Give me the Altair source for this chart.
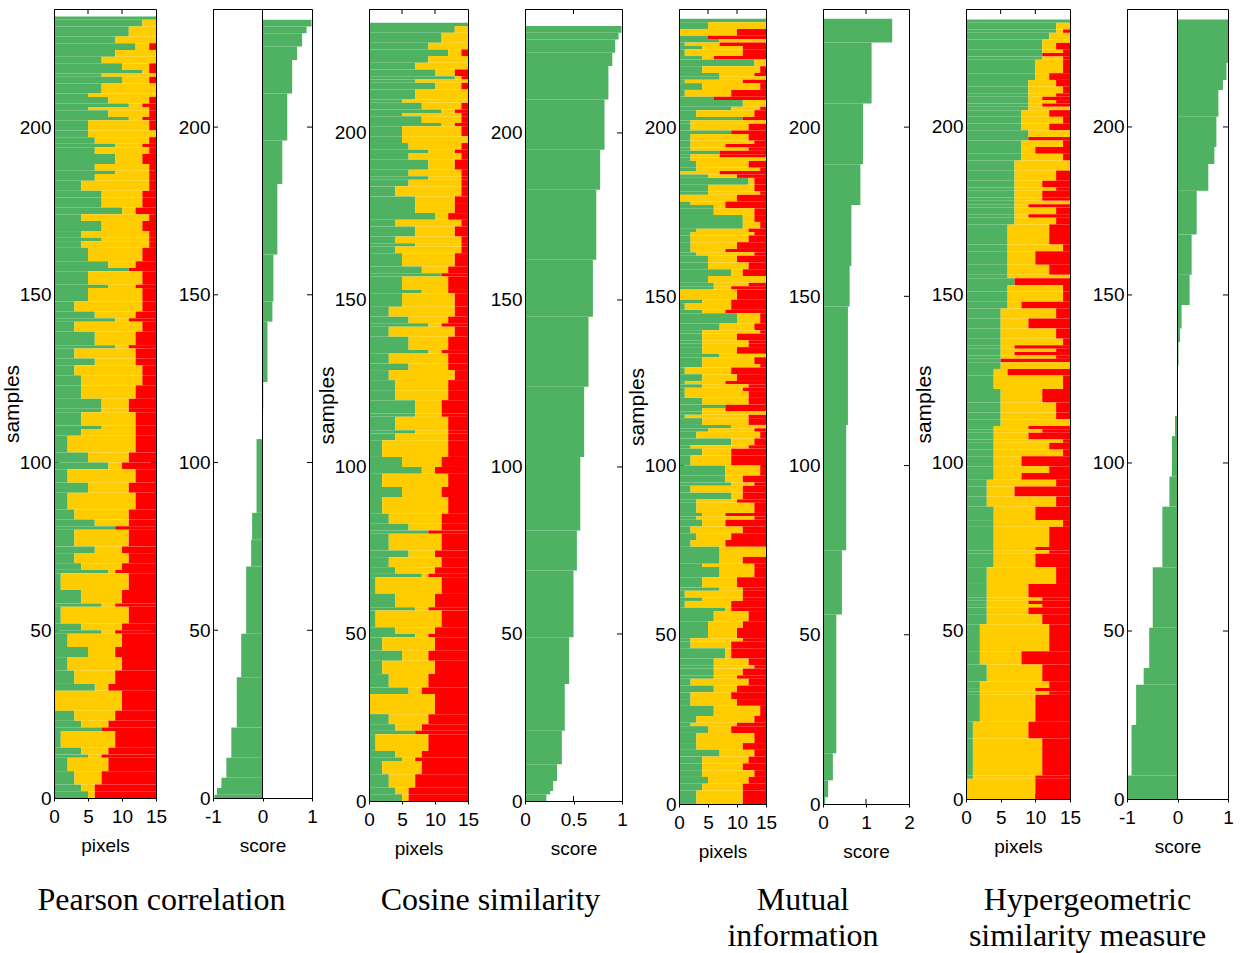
import altair as alt
import pandas as pd

GREEN = "#4FB263"
YELLOW = "#FFCC00"
RED = "#FF0000"
SANS = "Liberation Sans Narrow, Liberation Sans, Arial, sans-serif"
SERIF = "Liberation Serif, Times New Roman, serif"

PIXEL_TICKS = [0, 5, 10, 15]
SAMPLE_TICKS = [0, 50, 100, 150, 200]

# ---- pixel panels: runs of (number of samples, green end, yellow end), listed from the top sample down
PEARSON_PIX = [
    (1, 15, 15), (2, 13, 15), (3, 11, 15), (2, 9, 15), (2, 12, 14), (2, 9, 15), (2, 7, 15), (2, 10, 14),
    (1, 13, 14), (1, 7, 15), (2, 10, 14), (3, 7, 15), (1, 5, 15), (2, 8, 14), (1, 11, 13), (1, 5, 14),
    (2, 8, 14), (1, 11, 13), (3, 5, 14), (2, 5, 15), (2, 6, 14), (1, 9, 13), (2, 6, 14), (3, 9, 13),
    (2, 6, 14), (1, 9, 14), (2, 6, 14), (3, 4, 14), (2, 7, 13), (3, 7, 13), (2, 10, 12), (2, 4, 14),
    (3, 7, 13), (2, 4, 14), (1, 7, 14), (2, 4, 14), (4, 5, 13), (2, 8, 12), (1, 11, 11), (4, 5, 13),
    (1, 8, 12), (4, 5, 13), (3, 3, 13), (2, 6, 12), (1, 9, 11), (3, 3, 13), (4, 6, 12), (1, 9, 11),
    (3, 3, 12), (2, 6, 12), (3, 3, 13), (3, 4, 13), (4, 4, 12), (3, 7, 11),
    (1, 7, 11), (4, 4, 12), (1, 7, 12), (2, 4, 12), (5, 2, 12), (3, 5, 11), (2, 8, 10), (4, 2, 12),
    (3, 5, 11), (5, 2, 12), (3, 3, 11), (2, 6, 11), (1, 9, 9), (5, 3, 11), (2, 6, 10), (3, 3, 11),
    (2, 4, 10), (1, 8, 9), (5, 1, 11), (4, 4, 10), (1, 7, 9), (5, 1, 11), (2, 4, 10), (1, 7, 9),
    (4, 2, 10), (3, 5, 9), (4, 2, 10), (4, 3, 9), (2, 6, 8), (6, 0, 10), (3, 3, 9), (2, 4, 8),
    (1, 7, 7), (5, 1, 9), (2, 4, 8), (1, 5, 7), (4, 2, 8), (4, 3, 7), (2, 4, 6), (2, 5, 6),
]

COSINE_PIX = [
    (1, 15, 15), (2, 13, 15), (3, 11, 15), (2, 9, 15), (2, 12, 14), (2, 9, 15), (2, 7, 15), (2, 10, 13),
    (1, 13, 14), (1, 7, 15), (2, 10, 14), (3, 7, 15), (1, 5, 15), (2, 8, 14), (1, 11, 13), (1, 5, 14),
    (2, 8, 14), (1, 11, 13), (3, 5, 14), (2, 5, 15), (2, 6, 14), (1, 9, 13), (2, 6, 14), (3, 9, 13),
    (2, 6, 14), (1, 9, 14), (2, 6, 14), (3, 4, 14), (2, 7, 13), (3, 7, 13), (2, 10, 12), (2, 4, 14),
    (3, 7, 13), (2, 4, 14), (1, 7, 14), (2, 4, 14), (4, 5, 13), (2, 8, 12), (1, 11, 11), (4, 5, 12),
    (1, 8, 12), (4, 5, 13), (3, 3, 13), (2, 6, 12), (1, 9, 11), (3, 3, 13), (4, 6, 12), (1, 9, 11),
    (3, 3, 12), (2, 6, 12), (3, 3, 13), (3, 4, 12), (3, 4, 12), (4, 7, 11),
    (1, 7, 11), (4, 4, 12), (1, 7, 12), (2, 4, 12), (5, 2, 12), (3, 5, 11), (2, 8, 10), (4, 2, 12),
    (3, 5, 11), (5, 2, 12), (3, 3, 11), (2, 6, 11), (1, 9, 9), (5, 3, 11), (2, 6, 10), (3, 3, 11),
    (2, 4, 10), (1, 8, 9), (5, 1, 11), (4, 4, 10), (1, 7, 9), (5, 1, 11), (2, 4, 10), (1, 7, 9),
    (4, 2, 10), (3, 5, 9), (4, 2, 10), (4, 3, 9), (2, 6, 8), (6, 0, 10), (3, 3, 9), (2, 4, 8),
    (1, 7, 7), (5, 1, 9), (2, 4, 8), (1, 5, 7), (4, 2, 8), (4, 3, 7), (2, 4, 6), (2, 5, 6),
]

MI_PIX = [
    (1, 15, 15), (2, 5, 15), (2, 0, 10), (1, 5, 5), (1, 7, 15), (1, 1, 7), (1, 4, 11), (2, 1, 11),
    (1, 4, 6), (2, 13, 15), (2, 4, 14), (1, 7, 13), (1, 7, 15), (1, 1, 11), (2, 4, 14), (2, 1, 9),
    (1, 6, 6), (2, 11, 15), (1, 9, 14), (2, 3, 13), (1, 11, 11), (1, 2, 15), (2, 2, 12), (1, 9, 9),
    (2, 2, 12), (1, 2, 13), (1, 2, 8), (1, 2, 12), (1, 7, 7), (1, 2, 7), (1, 2, 15), (2, 3, 12),
    (1, 3, 14), (1, 0, 7), (1, 5, 10), (2, 12, 13), (2, 5, 13), (1, 5, 14), (2, 0, 10), (1, 2, 8),
    (1, 6, 8), (2, 6, 13), (2, 11, 13), (2, 11, 14), (1, 3, 12), (1, 2, 13), (2, 2, 12), (2, 2, 10),
    (1, 2, 8), (1, 3, 13), (2, 5, 10), (2, 5, 12), (2, 9, 11), (2, 5, 15), (1, 6, 12), (1, 6, 9),
    (3, 0, 10), (1, 4, 9), (2, 1, 9), (1, 4, 8), (3, 10, 14), (2, 7, 13), (1, 4, 14), (2, 4, 10),
    (1, 4, 12), (1, 4, 12), (2, 4, 10), (1, 7, 15), (2, 4, 13), (1, 4, 14), (2, 1, 9), (2, 4, 10),
    (1, 1, 8), (1, 4, 12), (1, 1, 11), (2, 1, 12), (2, 4, 12), (1, 8, 8),
    (1, 4, 8), (1, 4, 15), (1, 1, 12), (2, 4, 12), (1, 9, 15), (1, 5, 13), (2, 3, 14), (2, 9, 13),
    (1, 2, 12), (2, 4, 9), (3, 2, 9), (3, 8, 14), (2, 8, 11), (1, 9, 13), (2, 2, 11), (2, 9, 11),
    (1, 3, 10), (3, 3, 13), (1, 4, 8), (1, 3, 13), (2, 4, 8), (2, 2, 11), (2, 3, 9), (2, 2, 8),
    (3, 7, 15), (2, 7, 11), (1, 4, 13), (3, 7, 13), (3, 4, 10), (1, 7, 11), (2, 1, 11), (1, 4, 11),
    (2, 1, 9), (1, 8, 9), (3, 6, 12), (2, 5, 11), (3, 5, 10), (1, 2, 11), (2, 2, 9), (3, 8, 9),
    (2, 6, 12), (1, 6, 13), (2, 6, 11), (1, 6, 10), (2, 2, 12), (2, 6, 10), (2, 2, 9), (2, 2, 10),
    (3, 6, 14), (2, 3, 13), (1, 2, 10), (2, 5, 9), (3, 3, 13), (2, 3, 11), (2, 7, 13), (2, 4, 12),
    (2, 4, 11), (2, 4, 13), (2, 5, 12), (2, 4, 11), (4, 3, 11),
]

HYPER_PIX = [
    (1, 15, 15), (2, 13, 15), (1, 13, 14), (2, 12, 15), (1, 11, 15), (2, 11, 13), (1, 11, 14), (1, 11, 11),
    (1, 11, 14), (4, 10, 14), (2, 10, 12), (2, 9, 13), (2, 9, 14), (1, 9, 13), (1, 9, 11), (1, 9, 13),
    (1, 9, 11), (1, 9, 15), (2, 8, 12), (2, 8, 14), (2, 8, 12), (2, 9, 15), (1, 9, 9), (2, 8, 14),
    (2, 8, 10), (2, 8, 14), (3, 7, 15), (3, 7, 13), (2, 7, 11), (1, 7, 13), (2, 7, 11), (1, 7, 11),
    (1, 7, 15), (1, 7, 9), (2, 7, 13), (1, 7, 9), (2, 7, 13), (6, 6, 12), (2, 6, 14), (4, 6, 10),
    (3, 6, 12), (1, 6, 15), (2, 7, 7), (2, 6, 14), (3, 6, 14), (2, 6, 8), (3, 5, 13), (3, 5, 9),
    (3, 5, 13), (2, 5, 14), (1, 5, 7), (1, 5, 13), (1, 5, 7), (1, 5, 13), (1, 5, 5), (2, 5, 15),
    (2, 4, 6), (4, 4, 14), (4, 5, 11), (3, 5, 13),
    (2, 5, 13), (2, 5, 15), (1, 4, 9), (1, 4, 11), (2, 4, 9), (1, 4, 14), (2, 4, 12), (2, 4, 14),
    (3, 4, 8), (2, 4, 12), (2, 4, 8), (2, 3, 13), (3, 3, 7), (3, 3, 13), (4, 4, 10), (2, 4, 14),
    (6, 4, 12), (1, 4, 10), (1, 4, 12), (4, 4, 10), (5, 3, 13), (4, 3, 9), (1, 3, 11), (1, 3, 9),
    (1, 3, 11), (2, 3, 9), (3, 3, 11), (8, 2, 12), (4, 2, 8), (5, 3, 11), (2, 2, 12), (1, 2, 10),
    (1, 2, 12), (8, 2, 10), (5, 1, 9), (11, 1, 11), (1, 1, 10), (6, 0, 10),
]

# ---- score panels: runs of (number of samples, score), listed from sample 0 upward
PEARSON_SCORE = [
    (1, -0.97), (2, -0.92), (3, -0.83), (6, -0.73), (9, -0.63), (15, -0.52), (13, -0.43), (20, -0.33),
    (8, -0.23), (8, -0.21), (22, -0.12), (9, -0.01), (8, 0.015), (18, 0.10), (6, 0.20), (14, 0.22),
    (21, 0.30), (13, 0.40), (14, 0.50), (10, 0.60), (4, 0.70), (4, 0.80), (2, 0.89), (2, 0.99),
]
COSINE_SCORE = [
    (2, 0.22), (1, 0.26), (3, 0.29), (5, 0.33), (10, 0.38), (14, 0.41), (14, 0.455), (20, 0.50),
    (12, 0.535), (22, 0.57), (21, 0.61), (21, 0.655), (17, 0.70), (21, 0.735), (12, 0.775), (15, 0.82),
    (10, 0.86), (4, 0.90), (4, 0.93), (2, 0.965), (2, 0.995),
]
MI_SCORE = [
    (2, 0.05), (5, 0.12), (8, 0.23), (41, 0.31), (19, 0.44), (37, 0.54), (35, 0.58), (12, 0.62),
    (18, 0.66), (12, 0.87), (18, 0.93), (18, 1.13), (7, 1.61),
]
HYPER_SCORE = [
    (7, -0.99), (15, -0.91), (12, -0.82), (5, -0.67), (12, -0.56), (18, -0.49), (18, -0.30), (9, -0.16),
    (12, -0.11), (6, -0.05), (15, -0.01), (7, 0.02), (4, 0.05), (7, 0.08), (9, 0.24), (12, 0.28),
    (13, 0.38), (8, 0.61), (5, 0.73), (9, 0.77), (8, 0.81), (3, 0.90), (5, 0.97), (13, 1.00),
]

TICK = 5


def pixel_frame(runs):
    rows = []
    top = sum(r[0] for r in runs)
    for cnt, g, c in runs:
        lo = top - cnt
        for seg, a, b in (("green", 0, g), ("yellow", g, c), ("red", c, 15)):
            if b > a:
                rows.append({"seg": seg, "x0": a, "x1": b, "y0": lo, "y1": top})
        top = lo
    return pd.DataFrame(rows)


def score_frame(runs):
    rows = []
    lo = 0
    for cnt, v in runs:
        rows.append({"base": 0.0, "val": v, "y0": lo, "y1": lo + cnt})
        lo += cnt
    return pd.DataFrame(rows)


def tick_layers(xs, ys, xax, yax, xin, yin, W, H):
    tx = pd.DataFrame({"tv": xin})
    ty = pd.DataFrame({"tv": yin})
    bx = alt.Chart(tx).mark_rule(color="black", strokeWidth=1)
    by = alt.Chart(ty).mark_rule(color="black", strokeWidth=1)
    return [
        bx.encode(x=alt.X("tv:Q", scale=xs, axis=xax), y=alt.value(0), y2=alt.value(TICK)),
        bx.encode(x=alt.X("tv:Q", scale=xs, axis=xax), y=alt.value(H - TICK), y2=alt.value(H)),
        by.encode(y=alt.Y("tv:Q", scale=ys, axis=yax), x=alt.value(0), x2=alt.value(TICK)),
        by.encode(y=alt.Y("tv:Q", scale=ys, axis=yax), x=alt.value(W - TICK), x2=alt.value(W)),
    ]


def x_axis(values, title):
    return alt.Axis(values=values, title=title, labelFlush=False, tickSize=3, labelPadding=6,
                    titlePadding=10, zindex=1, labelExpr="'' + datum.value", labelAngle=0)


def pixel_panel(runs, W, H, D):
    xs = alt.Scale(domain=[0, 15], nice=False, zero=False)
    ys = alt.Scale(domain=[0, D], nice=False, zero=False)
    xax = x_axis(PIXEL_TICKS, "pixels")
    yax = alt.Axis(values=SAMPLE_TICKS, title="samples", ticks=False, labelPadding=3, minExtent=31,
                   maxExtent=31, titlePadding=1, titleFont="Liberation Sans", titleFontSize=21, zindex=1)
    bars = alt.Chart(pixel_frame(runs)).mark_rect().encode(
        x=alt.X("x0:Q", scale=xs, axis=xax),
        x2="x1:Q",
        y=alt.Y("y0:Q", scale=ys, axis=yax),
        y2="y1:Q",
        color=alt.Color("seg:N", scale=alt.Scale(domain=["green", "yellow", "red"],
                                                 range=[GREEN, YELLOW, RED]), legend=None),
    )
    layers = tick_layers(xs, ys, xax, yax, [5, 10], [50, 100, 150, 200], W, H) + [bars]
    return alt.layer(*layers).properties(width=W, height=H)


def score_panel(runs, dom, xticks, inner, W, H, D, zero_line, title, dx, offset):
    xs = alt.Scale(domain=dom, nice=False, zero=False)
    ys = alt.Scale(domain=[0, D], nice=False, zero=False)
    xax = x_axis(xticks, "score")
    yax = alt.Axis(values=SAMPLE_TICKS, title=None, ticks=False, labelPadding=3, zindex=1)
    bars = alt.Chart(score_frame(runs)).mark_rect(color=GREEN).encode(
        x=alt.X("val:Q", scale=xs, axis=xax),
        x2="base:Q",
        y=alt.Y("y0:Q", scale=ys, axis=yax),
        y2="y1:Q",
    )
    layers = tick_layers(xs, ys, xax, yax, inner, [50, 100, 150, 200], W, H) + [bars]
    if zero_line:
        layers.append(
            alt.Chart(pd.DataFrame({"z": [0]})).mark_rule(color="black", strokeWidth=1).encode(
                x=alt.X("z:Q", scale=xs, axis=xax), y=alt.value(0), y2=alt.value(H)))
    return alt.layer(*layers).properties(
        width=W, height=H,
        title=alt.TitleParams(text=title, orient="bottom", anchor="middle", font=SERIF, fontSize=32,
                              fontWeight="normal", color="black", dx=dx, offset=offset, lineHeight=36),
    )


p1 = pixel_panel(PEARSON_PIX, 102, 789, 235.2)
p2 = score_panel(PEARSON_SCORE, [-1, 1], [-1, 0, 1], [0], 99, 789, 235.2, True,
                 "Pearson correlation", -101, 30)
p3 = pixel_panel(COSINE_PIX, 99, 792, 237.1)
p4 = score_panel(COSINE_SCORE, [0, 1], [0, 0.5, 1], [0.5], 97, 792, 237.1, False,
                 "Cosine similarity", -83, 27)
p5 = pixel_panel(MI_PIX, 87, 795, 234.9)
p6 = score_panel(MI_SCORE, [0, 2], [0, 1, 2], [1], 86, 795, 234.9, False,
                 ["Mutual", "information"], -63, 24)
p7 = pixel_panel(HYPER_PIX, 104, 790, 235.1)
p8 = score_panel(HYPER_SCORE, [-1, 1], [-1, 0, 1], [0], 101, 790, 235.1, True,
                 ["Hypergeometric", "similarity measure"], -90, 29)

chart = alt.hconcat(p1, p2, p3, p4, p5, p6, p7, p8, spacing=57, bounds="flush").properties(
    padding={"left": 0, "top": 8, "right": 2, "bottom": 0}
).configure_view(stroke="black", strokeWidth=1).configure_axis(
    labelFont=SANS, titleFont=SANS, labelFontSize=19, titleFontSize=19, labelColor="black",
    titleColor="black", titleFontWeight="normal", grid=False, domainColor="black",
    tickColor="black", domainWidth=1,
)

chart.save("out.html", embed_options={"renderer": "svg", "actions": False})
